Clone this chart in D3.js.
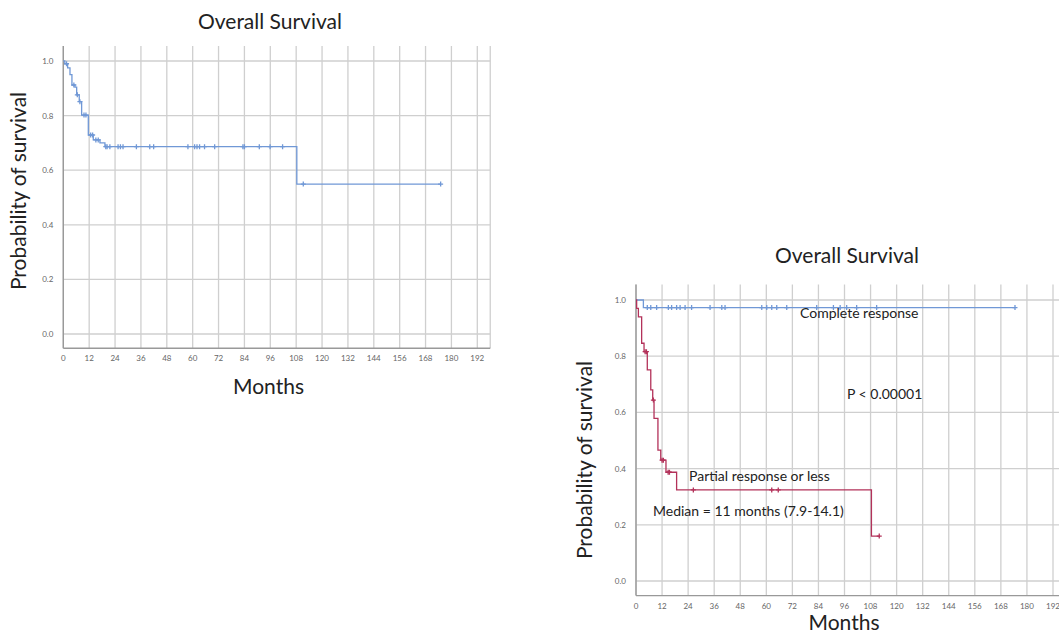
<!DOCTYPE html>
<html>
<head>
<meta charset="utf-8">
<script src="https://cdn.jsdelivr.net/npm/d3@7"></script>
<style>
	body { margin: 0; background: #fff; }
	svg { display: block; font-family: Lato, "Open Sans", sans-serif; }
</style>
</head>
<body>
<svg id="chart" width="1059" height="633"></svg>
<script>
// tick values shared by both panels
const xTicks = [0, 12, 24, 36, 48, 60, 72, 84, 96, 108, 120, 132, 144, 156, 168, 180, 192];
const yTicks = [0.0, 0.2, 0.4, 0.6, 0.8, 1.0];

// panel 1 : whole cohort
const allTimes = [0, 0.7, 2.0, 3.1, 4.0, 5.4, 6.2, 7.4, 8.5, 11.6, 13.9, 17.0, 19.3, 108.3];
const allSurv  = [1.0, 0.99, 0.975, 0.95, 0.912, 0.904, 0.876, 0.851, 0.802, 0.729, 0.711, 0.70, 0.686, 0.549];
const allCens  = [1.5, 4.9, 6.5, 7.7, 9.6, 10.5, 12.7, 13.6, 15.1, 16.2, 19.7, 20.3, 21.6, 25.4, 26.5, 27.7,
	33.9, 40.1, 41.9, 57.8, 60.9, 62.0, 63.2, 65.5, 70.2, 83.3, 84.0, 90.9, 95.9, 101.7, 111.3, 175];

// panel 2 : complete response
const crTimes = [0, 3.4];
const crSurv  = [1.0, 0.973];
const crCens  = [5.2, 6.8, 9.5, 14.9, 16.4, 18.7, 20.3, 22.6, 25.6, 34.1, 39.5, 41.0, 57.9, 60.2, 62.5,
	64.8, 69.4, 83.2, 90.9, 94.0, 97.0, 101.6, 110.8, 174.5];

// panel 2 : partial response or less
const prTimes = [0, 0.3, 1.1, 2.6, 3.7, 5.2, 6.8, 7.7, 8.3, 10.1, 11.4, 13.8, 18.7, 108.4];
const prSurv  = [1.0, 0.97, 0.94, 0.846, 0.816, 0.751, 0.68, 0.644, 0.579, 0.466, 0.43, 0.387, 0.324, 0.16];
const prCens  = [4.2, 4.8, 8.0, 12.0, 12.6, 14.8, 15.4, 26.4, 62.5, 65.5, 112];

const svg = d3.select('#chart');

function survAt(times, surv, t) {
	let s = surv[0];
	times.forEach((tt, i) => { if (tt <= t) s = surv[i]; });
	return s;
}

function panel(p) {
	const x = d3.scaleLinear().domain([0, 192]).range([p.x0, p.x192]);
	const y = d3.scaleLinear().domain([0, 1]).range([p.y0, p.y1]);
	const left = x(0), right = x(198), top = y(1.055), bottom = y(-0.052);
	const g = svg.append('g');

	// grid
	g.selectAll('.vg').data(xTicks.concat([198])).enter().append('line')
		.attr('x1', d => x(d)).attr('x2', d => x(d))
		.attr('y1', top).attr('y2', bottom)
		.attr('stroke', '#cfcfcf').attr('stroke-width', 1.3);
	g.selectAll('.hg').data(yTicks).enter().append('line')
		.attr('x1', left).attr('x2', right)
		.attr('y1', d => y(d)).attr('y2', d => y(d))
		.attr('stroke', '#cfcfcf').attr('stroke-width', 1.3);

	// axes lines
	g.append('line').attr('x1', left).attr('x2', left).attr('y1', top).attr('y2', bottom)
		.attr('stroke', '#999').attr('stroke-width', 1.4);
	g.append('line').attr('x1', left).attr('x2', right).attr('y1', bottom).attr('y2', bottom)
		.attr('stroke', '#999').attr('stroke-width', 1.4);

	// tick labels
	g.selectAll('.xl').data(xTicks).enter().append('text')
		.attr('x', d => x(d)).attr('y', bottom + 13)
		.attr('text-anchor', 'middle').attr('font-size', 8).attr('fill', '#666')
		.text(d => d);
	g.selectAll('.yl').data(yTicks).enter().append('text')
		.attr('x', left - 10).attr('y', d => y(d) + 3)
		.attr('text-anchor', 'end').attr('font-size', 8).attr('fill', '#666')
		.text(d => d.toFixed(1));

	// titles
	g.append('text').attr('x', p.titleX).attr('y', p.titleY)
		.attr('text-anchor', 'middle').attr('font-size', 21).attr('fill', '#222')
		.text('Overall Survival');
	g.append('text').attr('x', p.monthsX).attr('y', p.monthsY)
		.attr('text-anchor', 'middle').attr('font-size', 21).attr('fill', '#222')
		.text('Months');
	g.append('text')
		.attr('transform', `translate(${p.ylabX},${p.ylabY}) rotate(-90)`)
		.attr('text-anchor', 'middle').attr('font-size', 21).attr('fill', '#222')
		.text('Probability of survival');

	// curves
	p.series.forEach(s => {
		const pts = s.times.map((t, i) => [t, s.surv[i]]);
		const last = d3.max(s.cens);
		pts.push([last, s.surv[s.surv.length - 1]]);
		const line = d3.line().x(d => x(d[0])).y(d => y(d[1])).curve(d3.curveStepAfter);
		g.append('path').attr('d', line(pts))
			.attr('fill', 'none').attr('stroke', s.color).attr('stroke-width', 1.3);
		g.selectAll(null).data(s.cens).enter().append('path')
			.attr('d', d => {
				const cx = x(d), cy = y(survAt(s.times, s.surv, d));
				return `M${cx - 2.5},${cy}H${cx + 2.5}M${cx},${cy - 2.5}V${cy + 2.5}`;
			})
			.attr('stroke', s.color).attr('stroke-width', 1.3);
	});

	(p.notes || []).forEach(n => {
		g.append('text').attr('x', n.x).attr('y', n.y)
			.attr('font-size', 14).attr('fill', '#222').text(n.text);
	});
}

panel({
	x0: 63.3, x192: 477.3, y0: 334, y1: 61,
	titleX: 270, titleY: 29, monthsX: 268.5, monthsY: 394, ylabX: 26, ylabY: 191,
	series: [{ times: allTimes, surv: allSurv, cens: allCens, color: '#7098d6' }]
});

panel({
	x0: 636, x192: 1053, y0: 581, y1: 300,
	titleX: 847, titleY: 263, monthsX: 844, monthsY: 630, ylabX: 592, ylabY: 460,
	series: [
		{ times: crTimes, surv: crSurv, cens: crCens, color: '#7098d6' },
		{ times: prTimes, surv: prSurv, cens: prCens, color: '#b3325a' }
	],
	notes: [
		{ x: 800, y: 318, text: 'Complete response' },
		{ x: 847, y: 399, text: 'P < 0.00001' },
		{ x: 689, y: 481, text: 'Partial response or less' },
		{ x: 653, y: 515.5, text: 'Median = 11 months (7.9-14.1)' }
	]
});
</script>
</body>
</html>
